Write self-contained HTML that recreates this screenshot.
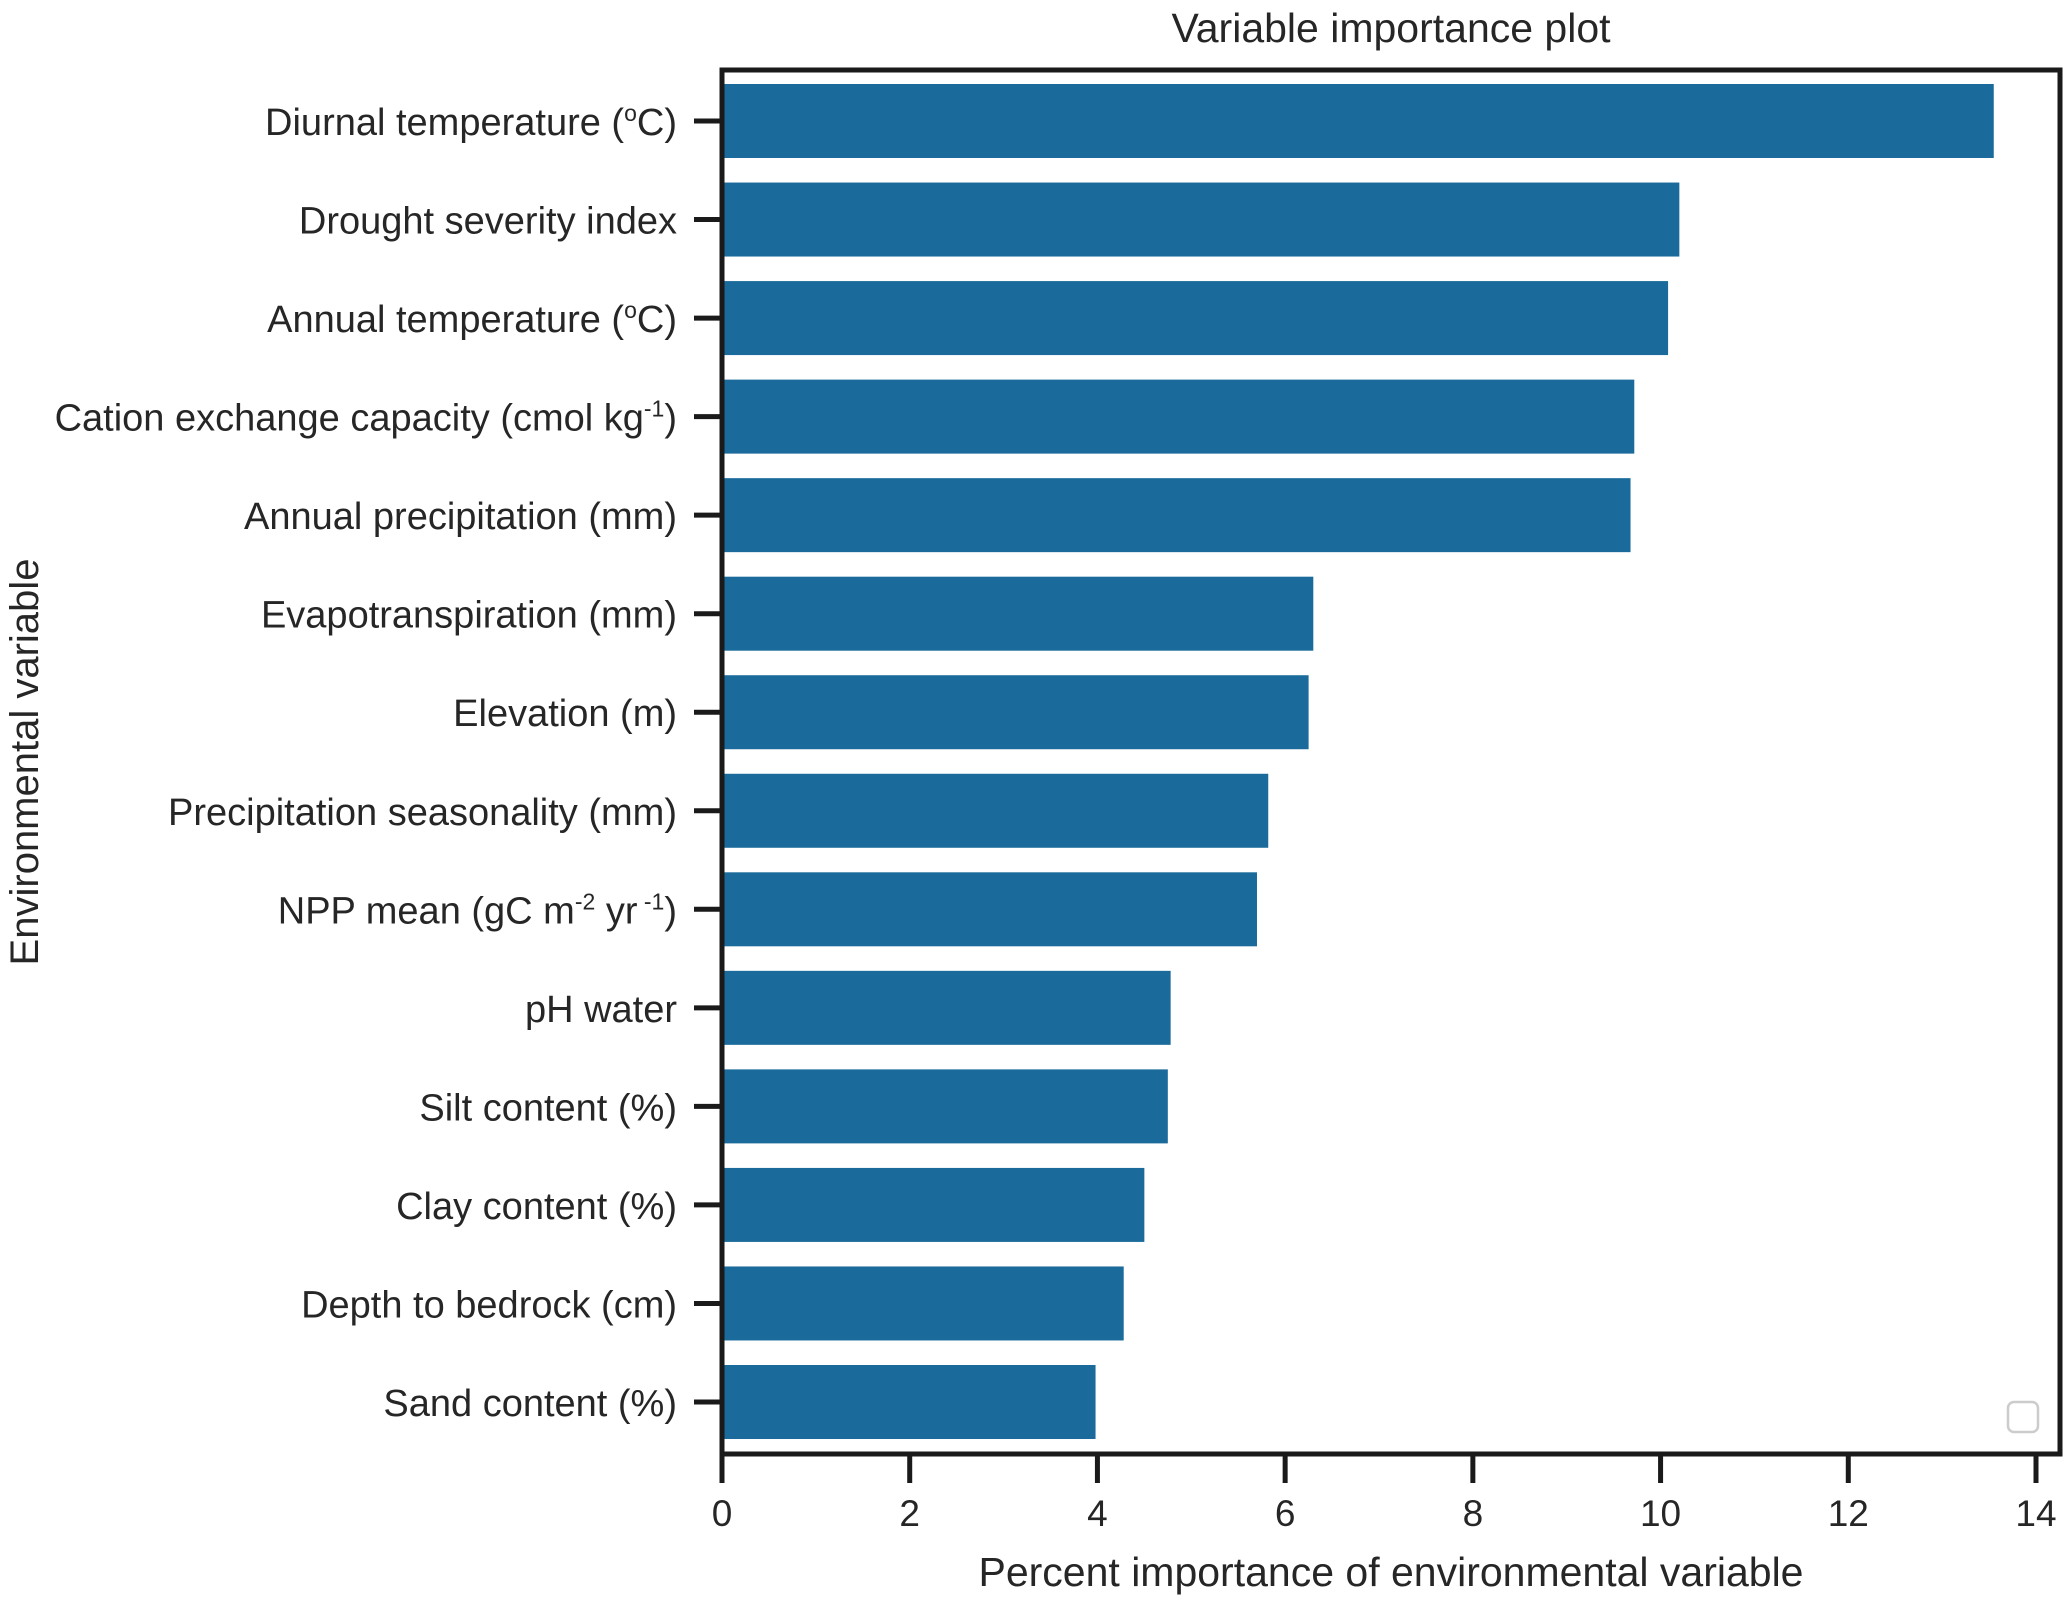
<!DOCTYPE html>
<html><head><meta charset="utf-8"><style>
html,body{margin:0;padding:0;background:#fff;}
svg text{font-family:"Liberation Sans",Arial,sans-serif;fill:#262626;}
</style></head><body>
<svg id="chart" width="2067" height="1606" viewBox="0 0 2067 1606" xmlns="http://www.w3.org/2000/svg">
<text x="1391" y="42" font-size="41" text-anchor="middle">Variable importance plot</text>
<g id="bars"></g>
<g id="yaxis"></g>
<g id="xaxis"></g>
<rect x="722" y="70" width="1338" height="1384" fill="none" stroke="#1a1a1a" stroke-width="5"/>
<rect x="2008" y="1402" width="30" height="30" rx="6" fill="none" stroke="#ccc" stroke-width="2.5"/>
<text x="1391" y="1586" font-size="41" text-anchor="middle">Percent importance of environmental variable</text>
<text transform="translate(38,762) rotate(-90)" font-size="40" text-anchor="middle">Environmental variable</text>
</svg>
<script>
const categories = [
 'Diurnal temperature (<tspan dy="-14" font-size="23">o</tspan><tspan dy="14">C)</tspan>',
 'Drought severity index',
 'Annual temperature (<tspan dy="-14" font-size="23">o</tspan><tspan dy="14">C)</tspan>',
 'Cation exchange capacity (cmol kg<tspan dy="-14" font-size="23">-1</tspan><tspan dy="14">)</tspan>',
 'Annual precipitation (mm)',
 'Evapotranspiration (mm)',
 'Elevation (m)',
 'Precipitation seasonality (mm)',
 'NPP mean (gC m<tspan dy="-14" font-size="23">-2</tspan><tspan dy="14"> yr</tspan><tspan dy="-14" font-size="23"> -1</tspan><tspan dy="14">)</tspan>',
 'pH water',
 'Silt content (%)',
 'Clay content (%)',
 'Depth to bedrock (cm)',
 'Sand content (%)'
];
const values = [13.55, 10.2, 10.08, 9.72, 9.68, 6.3, 6.25, 5.82, 5.7, 4.78, 4.75, 4.5, 4.28, 3.98];
const xTicks = [0, 2, 4, 6, 8, 10, 12, 14];

const NS = 'http://www.w3.org/2000/svg';
const x0 = 722, xUnit = (2036 - 722) / 14;
const yFirst = 121, yStep = (1402 - 121) / 13, barH = 74;
const xScale = v => x0 + v * xUnit;
const yScale = i => yFirst + i * yStep;

const bars = document.getElementById('bars');
const yaxis = document.getElementById('yaxis');
const xaxis = document.getElementById('xaxis');

values.forEach((v, i) => {
  const r = document.createElementNS(NS, 'rect');
  r.setAttribute('x', x0);
  r.setAttribute('y', yScale(i) - barH / 2);
  r.setAttribute('width', xScale(v) - x0);
  r.setAttribute('height', barH);
  r.setAttribute('fill', '#1a6b9b');
  
  
  bars.appendChild(r);
});

categories.forEach((c, i) => {
  const t = document.createElementNS(NS, 'line');
  t.setAttribute('x1', 694); t.setAttribute('x2', 722);
  t.setAttribute('y1', yScale(i)); t.setAttribute('y2', yScale(i));
  t.setAttribute('stroke', '#1a1a1a'); t.setAttribute('stroke-width', 5);
  
  
  yaxis.appendChild(t);
  const l = document.createElementNS(NS, 'text');
  l.setAttribute('x', 677);
  l.setAttribute('y', yScale(i) + 14);
  l.setAttribute('font-size', '38');
  l.setAttribute('text-anchor', 'end');
  l.innerHTML = c;
  
  
  yaxis.appendChild(l);
});

xTicks.forEach(v => {
  const t = document.createElementNS(NS, 'line');
  t.setAttribute('x1', xScale(v)); t.setAttribute('x2', xScale(v));
  t.setAttribute('y1', 1454); t.setAttribute('y2', 1483);
  t.setAttribute('stroke', '#1a1a1a'); t.setAttribute('stroke-width', 5);
  
  
  xaxis.appendChild(t);
  const l = document.createElementNS(NS, 'text');
  l.setAttribute('x', xScale(v));
  l.setAttribute('y', 1526);
  l.setAttribute('font-size', '37');
  l.setAttribute('text-anchor', 'middle');
  l.textContent = v;
  
  
  xaxis.appendChild(l);
});
</script>
</body></html>
